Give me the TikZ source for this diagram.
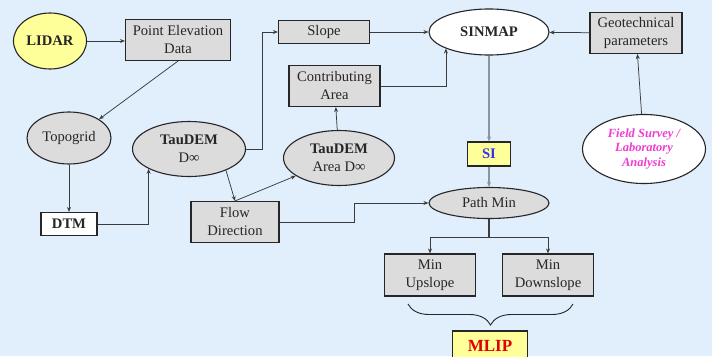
\documentclass[tikz,border=0pt]{standalone}
\usepackage{fontspec}
\setmainfont{Liberation Serif}
\usetikzlibrary{arrows.meta,shapes.geometric,decorations.pathreplacing}
\definecolor{bg}{HTML}{E1EEFC}
\definecolor{boxgray}{HTML}{DCDCDC}
\definecolor{pale}{HTML}{FFFF99}
\definecolor{ink}{HTML}{262626}
\definecolor{wire}{HTML}{3C3C3C}
\definecolor{steel}{HTML}{8A939E}
\definecolor{pinkish}{HTML}{F03CD2}
\definecolor{siblue}{HTML}{3333EE}
\definecolor{mlipred}{HTML}{E00000}

\begin{document}
\begin{tikzpicture}[x=1pt,y=-1pt,font=\fontsize{14.6}{18}\selectfont,text=ink,
box/.style={draw=ink,line width=1.1pt,fill=boxgray,align=center,inner sep=0pt},
oval/.style={ellipse,draw=ink,line width=1.1pt,fill=boxgray,align=center,inner sep=0pt},
arrow/.style={-{Stealth[length=5pt,width=4pt]},draw=wire,line width=.75pt},
mainline/.style={arrow,draw=steel,line width=1.4pt}]
\fill[bg] (0,0) rectangle (712,356);
\useasboundingbox (0,0) rectangle (712,356);
% top row
\node[oval,fill=pale,minimum width=73pt,minimum height=56pt](lidar) at (50,41){\textbf{LIDAR}};
\node[box,minimum width=105pt,minimum height=41pt](ped) at (178,40){Point Elevation\\Data};
\node[box,minimum width=91pt,minimum height=23pt](slope) at (324,32){Slope};
\node[oval,fill=white,minimum width=120pt,minimum height=46pt](sinmap) at (489,32){\textbf{SINMAP}};
\node[box,minimum width=92pt,minimum height=41pt](geo) at (636,33){Geotechnical\\parameters};
\node[box,minimum width=91pt,minimum height=41pt](contrib) at (334.5,86){Contributing\\Area};
% middle
\node[oval,minimum width=84pt,minimum height=52pt](topo) at (69,138){Topogrid};
\node[oval,minimum width=113pt,minimum height=55pt](tdinf) at (189,149){\textbf{TauDEM}\\D∞};
\node[oval,minimum width=111pt,minimum height=55pt](tdarea) at (339,158){\textbf{TauDEM}\\Area D∞};
\node[box,fill=pale,minimum width=43pt,minimum height=24pt,text=siblue](si) at (489,154){\textbf{SI}};
\node[oval,fill=white,minimum width=123pt,minimum height=69pt,text=pinkish,font=\fontsize{12.5}{14.5}\selectfont\bfseries\itshape](field) at (644,149){Field Survey /\\Laboratory\\Analysis};
\node[box,fill=white,minimum width=56pt,minimum height=23pt](dtm) at (69,224){\textbf{DTM}};
\node[box,minimum width=88pt,minimum height=41pt](flow) at (235,222){Flow\\Direction};
\node[oval,minimum width=120pt,minimum height=31pt](path) at (489,203){Path Min};
% bottom
\node[box,minimum width=91pt,minimum height=42pt](up) at (430,275){Min\\Upslope};
\node[box,minimum width=91pt,minimum height=42pt](down) at (548,275){Min\\Downslope};
\node[box,fill=pale,minimum width=75pt,minimum height=30pt,text=mlipred,font=\fontsize{17}{20}\selectfont\bfseries](mlip) at (490,346){MLIP};
\coordinate(braceL) at (408,304);\coordinate(braceR) at (573,304);
% connectors
\draw[arrow](lidar)--(lidar.east-|ped.west);\draw[arrow](ped.south)--(topo.north east);\draw[arrow](topo)--(dtm);
\draw[arrow](dtm.east)-|(tdinf.south west);\draw[arrow](tdinf.east)--++(16,0)|-(slope.west);
\draw[arrow](tdinf.-30)--(flow.north);\draw[arrow](flow.north)--(tdarea);\draw[arrow](tdarea)--(contrib);
\draw[arrow](contrib.east)-|(sinmap.201);\draw[arrow](slope)--(sinmap);\draw[arrow](geo)--(sinmap);\draw[arrow](field)--(geo);
\draw[mainline](sinmap)--(si);\draw[mainline](si)--(path);
\draw[arrow](flow.east)--++(75,0)|-(path.west);
\draw[wire,line width=1.4pt](path.south)--++(0,18.5)coordinate(split);
\draw[arrow](split)-|(up.north);\draw[arrow](split)-|(down.north);
\draw[draw=ink,line width=.9pt,decorate,decoration={brace,amplitude=21pt}](braceR)--(braceL);
\end{tikzpicture}
\end{document}
